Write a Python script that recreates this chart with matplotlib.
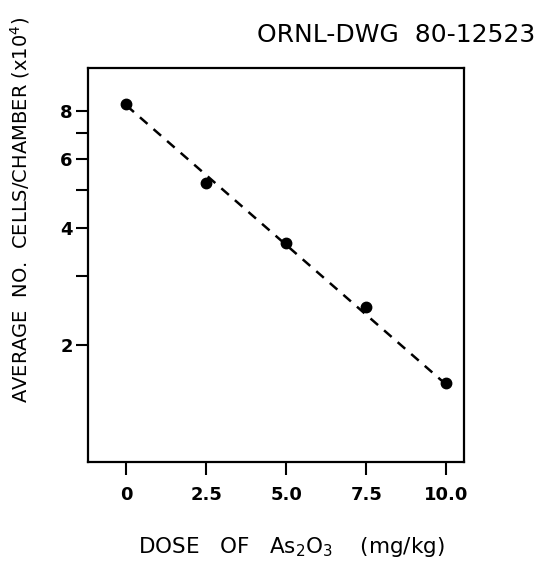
import numpy as np
import matplotlib.pyplot as plt
from matplotlib.ticker import FixedLocator, NullFormatter, FixedFormatter

# Data
dose = [0.0, 2.5, 5.0, 7.5, 10.0]
cells = [8.3, 5.2, 3.65, 2.5, 1.6]          # x10^4 cells/chamber
fit_dose = [0.0, 10.0]
fit_cells = [8.25, 1.58]

x_ticks = [0, 2.5, 5.0, 7.5, 10.0]
x_tick_labels = ["0", "2.5", "5.0", "7.5", "10.0"]
y_major = [2, 4, 6, 8]
y_minor = [3, 5, 7]

plt.rcParams["font.family"] = "DejaVu Sans"

fig = plt.figure(figsize=(5.5, 5.68), dpi=100)
ax = fig.add_axes([0.16, 0.1866, 0.6836, 0.6937])

ax.plot(fit_dose, fit_cells, color="black", linestyle=(0, (4, 3.2)), linewidth=1.8)
ax.plot(dose, cells, "o", color="black", markersize=7.5)

ax.set_yscale("log")
ax.set_xlim(-1.2, 10.55)
ax.set_ylim(1.0, 10.3)

ax.set_xticks(x_ticks)
ax.set_xticklabels(x_tick_labels)
ax.yaxis.set_major_locator(FixedLocator(y_major))
ax.yaxis.set_major_formatter(FixedFormatter([str(v) for v in y_major]))
ax.yaxis.set_minor_locator(FixedLocator(y_minor))
ax.yaxis.set_minor_formatter(NullFormatter())

ax.tick_params(axis="x", direction="out", length=9, width=1.5, pad=8, labelsize=13)
ax.tick_params(axis="y", which="both", direction="out", length=9, width=1.5, pad=2, labelsize=13)
for lab in ax.get_xticklabels() + ax.get_yticklabels():
    lab.set_fontweight("bold")

for sp in ax.spines.values():
    sp.set_linewidth(1.6)

fig.text(0.973, 0.938, "ORNL-DWG  80-12523", ha="right", va="center", fontsize=18)
fig.text(0.53, 0.037, r"DOSE   OF   As$_2$O$_3$    (mg/kg)", ha="center", va="center", fontsize=15.5)
fig.text(0.036, 0.63, r"AVERAGE  NO.  CELLS/CHAMBER (x10$^4$)", ha="center", va="center",
         rotation=90, fontsize=14)

fig.savefig("out.png", dpi=100)
